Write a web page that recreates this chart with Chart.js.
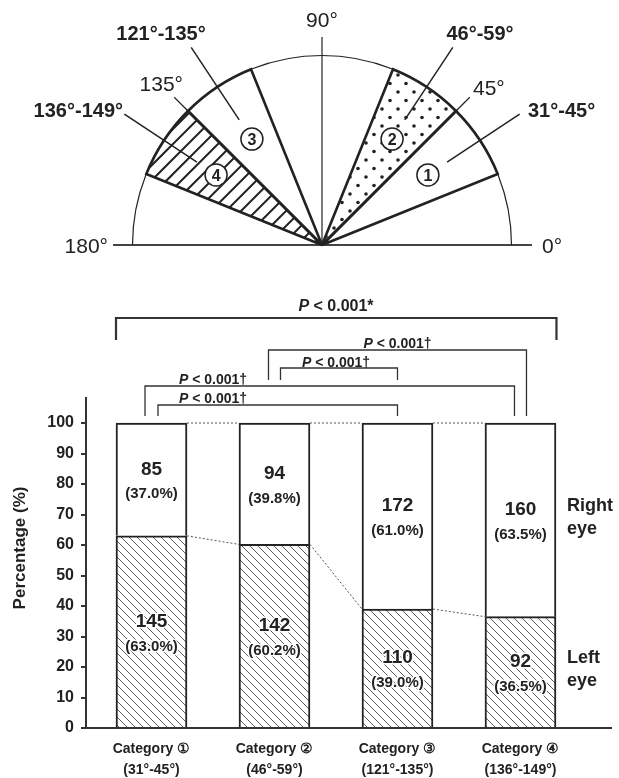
<!DOCTYPE html>
<html>
<head>
<meta charset="utf-8">
<script src="https://cdn.jsdelivr.net/npm/chart.js@4/dist/chart.umd.min.js"></script>
<style>
  html, body { margin: 0; padding: 0; background: #fff; }
  canvas { display: block; }
</style>
</head>
<body>
<canvas id="chart" width="619" height="778"></canvas>
<script>
// ---- data ----
const categories = ['Category ①', 'Category ②', 'Category ③', 'Category ④'];
const angleRanges = ['(31°-45°)', '(46°-59°)', '(121°-135°)', '(136°-149°)'];
const leftEyeCount = [145, 142, 110, 92];
const rightEyeCount = [85, 94, 172, 160];
const leftEyePct = [63.0, 60.2, 39.0, 36.5];
const rightEyePct = [37.0, 39.8, 61.0, 63.5];
const yTickValues = [0, 10, 20, 30, 40, 50, 60, 70, 80, 90, 100];
const seriesNames = ['Left eye', 'Right eye'];

// pairwise comparisons: [first category, second category, p-value text, mark]
const comparisons = [
  [1, 4, 'P < 0.001', '*'],
  [2, 4, 'P < 0.001', '†'],
  [2, 3, 'P < 0.001', '†'],
  [1, 4, 'P < 0.001', '†'],
  [1, 3, 'P < 0.001', '†']
];

// schematic of the angle categories (drawn span of each wedge, in degrees)
const sectorNumbers = ['1', '2', '3', '4'];
const sectorRangeLabels = ['31°-45°', '46°-59°', '121°-135°', '136°-149°'];
const sectorSpans = [[22, 45], [45, 68], [112, 135], [135, 158]];
const referenceAngles = ['0°', '45°', '90°', '135°', '180°'];

// ---- drawing helpers ----
const FONT = "'Liberation Sans', Arial, Helvetica, sans-serif";
Chart.defaults.font.family = FONT;
Chart.defaults.color = '#222';
const INK = '#222';

function font(size, weight, italic) {
  return (italic ? 'italic ' : '') + (weight || 'normal') + ' ' + size + 'px ' + FONT;
}
// y is the vertical centre of the capital letters
function text(ctx, str, x, y, size, weight, align, halo) {
  ctx.save();
  ctx.font = font(size, weight);
  ctx.textAlign = align || 'center';
  ctx.textBaseline = 'alphabetic';
  const by = y + size * 0.358;
  if (halo) {
    ctx.strokeStyle = '#fff';
    ctx.lineWidth = 3;
    ctx.lineJoin = 'round';
    ctx.strokeText(str, x, by);
  }
  ctx.fillStyle = INK;
  ctx.fillText(str, x, by);
  ctx.restore();
}
function pLabel(ctx, str, x, y, size) {
  // italic "P", remainder upright, centred on x
  ctx.save();
  ctx.textBaseline = 'alphabetic';
  ctx.textAlign = 'left';
  ctx.fillStyle = INK;
  const head = str.slice(0, 1), tail = str.slice(1);
  ctx.font = font(size, 'bold', true);
  const w1 = ctx.measureText(head).width;
  ctx.font = font(size, 'bold');
  const w2 = ctx.measureText(tail).width;
  const x0 = x - (w1 + w2) / 2;
  ctx.font = font(size, 'bold', true);
  ctx.fillText(head, x0, y);
  ctx.font = font(size, 'bold');
  ctx.fillText(tail, x0 + w1, y);
  ctx.restore();
}

function barHatch(ctx) {
  const s = 8;
  const c = document.createElement('canvas');
  c.width = s; c.height = s;
  const g = c.getContext('2d');
  g.fillStyle = '#fff';
  g.fillRect(0, 0, s, s);
  g.strokeStyle = '#4a4a4a';
  g.lineWidth = 0.9;
  g.beginPath();
  g.moveTo(-1, -1); g.lineTo(s + 1, s + 1);
  g.moveTo(-1, s - 1); g.lineTo(1, s + 1);
  g.moveTo(s - 1, -1); g.lineTo(s + 1, 1);
  g.stroke();
  return ctx.createPattern(c, 'repeat');
}

// ---- angle schematic ----
function drawSchematic(ctx) {
  const cx = 322, cy = 245, R = 189.5;
  const rad = d => d * Math.PI / 180;
  const pt = (deg, r) => [cx + r * Math.cos(rad(deg)), cy - r * Math.sin(rad(deg))];
  const wedge = (a1, a2) => {
    ctx.beginPath();
    ctx.moveTo(cx, cy);
    const p = pt(a1, R);
    ctx.lineTo(p[0], p[1]);
    ctx.arc(cx, cy, R, -rad(a1), -rad(a2), true);
    ctx.closePath();
  };
  ctx.save();
  ctx.lineCap = 'butt';

  // base line and thin half circle
  ctx.strokeStyle = '#444';
  ctx.lineWidth = 2;
  ctx.beginPath(); ctx.moveTo(113, cy); ctx.lineTo(532, cy); ctx.stroke();
  ctx.strokeStyle = INK;
  ctx.lineWidth = 1.2;
  ctx.beginPath(); ctx.arc(cx, cy, R, Math.PI, 0); ctx.stroke();

  // fills
  sectorSpans.forEach((span, i) => {
    ctx.save();
    wedge(span[0], span[1]);
    ctx.fillStyle = '#fff';
    ctx.fill();
    ctx.clip();
    if (i === 1) {
      ctx.fillStyle = INK;
      for (let row = 0, y = cy; y > cy - R - 10; row++, y -= 8.5) {
        for (let x = cx - 20 + (row % 2 ? 8 : 0); x < cx + R; x += 16) {
          ctx.beginPath(); ctx.arc(x, y, 1.8, 0, Math.PI * 2); ctx.fill();
        }
      }
    } else if (i === 3) {
      ctx.strokeStyle = INK;
      ctx.lineWidth = 2;
      for (let k = cx - 420; k < cx + 40; k += 15) {
        ctx.beginPath(); ctx.moveTo(k, cy + 5); ctx.lineTo(k + 260, cy - 255); ctx.stroke();
      }
    }
    ctx.restore();
  });

  // thin reference rays
  ctx.strokeStyle = INK;
  ctx.lineWidth = 1.2;
  let a = pt(90, 0), b = pt(90, 208);
  ctx.beginPath(); ctx.moveTo(a[0], a[1]); ctx.lineTo(b[0], b[1]); ctx.stroke();
  [45, 135].forEach(d => {
    const p = pt(d, R), q = pt(d, 209);
    ctx.beginPath(); ctx.moveTo(p[0], p[1]); ctx.lineTo(q[0], q[1]); ctx.stroke();
  });

  // wedge outlines
  ctx.lineWidth = 2.6;
  ctx.lineJoin = 'miter';
  ctx.miterLimit = 2;
  sectorSpans.forEach(span => { wedge(span[0], span[1]); ctx.stroke(); });

  // leader lines and numbered circles
  sectorSpans.forEach((span, i) => {
    const mid = (span[0] + span[1]) / 2;
    const p = pt(mid, 150), q = pt(mid, 237);
    ctx.lineWidth = 1.5;
    ctx.beginPath(); ctx.moveTo(p[0], p[1]); ctx.lineTo(q[0], q[1]); ctx.stroke();
    const c = pt(mid, 127);
    ctx.beginPath(); ctx.arc(c[0], c[1], 11, 0, Math.PI * 2);
    ctx.fillStyle = '#fff'; ctx.fill();
    ctx.lineWidth = 1.5; ctx.stroke();
    text(ctx, sectorNumbers[i], c[0], c[1], 16, 'bold');
  });

  // reference angle labels
  text(ctx, referenceAngles[0], 542, cy, 21, 'normal', 'left');
  text(ctx, referenceAngles[1], 473, 87, 21, 'normal', 'left');
  text(ctx, referenceAngles[2], cx, 19, 21, 'normal', 'center');
  text(ctx, referenceAngles[3], 183, 83, 21, 'normal', 'right');
  text(ctx, referenceAngles[4], 108, cy, 21, 'normal', 'right');

  // category range labels
  text(ctx, sectorRangeLabels[0], 528, 110, 20, 'bold', 'left');
  text(ctx, sectorRangeLabels[1], 480, 33, 20, 'bold', 'center');
  text(ctx, sectorRangeLabels[2], 161, 33, 20, 'bold', 'center');
  text(ctx, sectorRangeLabels[3], 123, 110, 20, 'bold', 'right');
  ctx.restore();
}

// bracket placement for each comparison (pixel offsets from category centres)
const bracketLayout = [
  { y: 318, legL: 340, legR: 340, dxL: -35.5, dxR: 36, labelAt: 2.5, size: 16, lw: 2.2, gap: 7 },
  { y: 350, legL: 380, legR: 416, dxL: -6, dxR: 6, labelAt: 3, size: 14, lw: 1.3, gap: 2 },
  { y: 368, legL: 380, legR: 380, dxL: 6, dxR: 0, labelAt: 2.5, size: 14, lw: 1.3, gap: 1 },
  { y: 386, legL: 416, legR: 416, dxL: -6.5, dxR: -6, labelAt: 1.5, size: 14, lw: 1.3, gap: 2 },
  { y: 405, legL: 416, legR: 416, dxL: 6.5, dxR: 0, labelAt: 1.5, size: 14, lw: 1.3, gap: 2 }
];

const overlay = {
  id: 'overlay',
  afterDraw(chart) {
    const ctx = chart.ctx;
    const xs = chart.scales.x, ys = chart.scales.y;
    const meta = chart.getDatasetMeta(0);
    const half = meta.data[0].width / 2;

    drawSchematic(ctx);

    // dotted connectors between neighbouring bars
    ctx.save();
    ctx.strokeStyle = '#555';
    ctx.lineWidth = 1;
    ctx.setLineDash([2, 2]);
    for (let i = 0; i < categories.length - 1; i++) {
      const x1 = xs.getPixelForValue(i + 1) + half, x2 = xs.getPixelForValue(i + 2) - half;
      const top = ys.getPixelForValue(leftEyePct[i] + rightEyePct[i]);
      const top2 = ys.getPixelForValue(leftEyePct[i + 1] + rightEyePct[i + 1]);
      ctx.beginPath(); ctx.moveTo(x1, top); ctx.lineTo(x2, top2); ctx.stroke();
      ctx.beginPath();
      ctx.moveTo(x1, ys.getPixelForValue(leftEyePct[i]));
      ctx.lineTo(x2, ys.getPixelForValue(leftEyePct[i + 1]));
      ctx.stroke();
    }
    ctx.restore();

    // counts and shares inside each segment
    for (let i = 0; i < categories.length; i++) {
      const x = xs.getPixelForValue(i + 1);
      const lc = ys.getPixelForValue(leftEyePct[i] / 2);
      const rc = ys.getPixelForValue(leftEyePct[i] + rightEyePct[i] / 2);
      text(ctx, String(rightEyeCount[i]), x, rc - 11.5, 19, 'bold');
      text(ctx, '(' + rightEyePct[i].toFixed(1) + '%)', x, rc + 13.5, 15, 'bold');
      text(ctx, String(leftEyeCount[i]), x, lc - 12, 19, 'bold', 'center', true);
      text(ctx, '(' + leftEyePct[i].toFixed(1) + '%)', x, lc + 13.5, 15, 'bold', 'center', true);
    }

    // series names beside the last bar
    const last = categories.length - 1;
    const lx = xs.getPixelForValue(last + 1) + half + 11;
    const rMid = ys.getPixelForValue(leftEyePct[last] + rightEyePct[last] / 2) - 4;
    const lMid = ys.getPixelForValue(leftEyePct[last] / 2) - 4;
    const [lw1, lw2] = seriesNames[0].split(' ');
    const [rw1, rw2] = seriesNames[1].split(' ');
    text(ctx, rw1, lx, rMid - 11.5, 18, 'bold', 'left');
    text(ctx, rw2, lx, rMid + 11.5, 18, 'bold', 'left');
    text(ctx, lw1, lx, lMid - 11.5, 18, 'bold', 'left');
    text(ctx, lw2, lx, lMid + 11.5, 18, 'bold', 'left');

    // y axis title
    ctx.save();
    ctx.translate(20, 548);
    ctx.rotate(-Math.PI / 2);
    ctx.font = font(17, 'bold');
    ctx.fillStyle = INK;
    ctx.textAlign = 'center';
    ctx.textBaseline = 'middle';
    ctx.fillText('Percentage (%)', 0, 0);
    ctx.restore();

    // significance brackets
    ctx.save();
    ctx.strokeStyle = '#333';
    comparisons.forEach((cmp, k) => {
      const L = bracketLayout[k];
      const xa = xs.getPixelForValue(cmp[0]) + L.dxL;
      const xb = xs.getPixelForValue(cmp[1]) + L.dxR;
      ctx.lineWidth = L.lw;
      ctx.lineJoin = 'miter';
      ctx.beginPath();
      ctx.moveTo(xa, L.legL); ctx.lineTo(xa, L.y); ctx.lineTo(xb, L.y); ctx.lineTo(xb, L.legR);
      ctx.stroke();
      pLabel(ctx, cmp[2] + cmp[3], xs.getPixelForValue(L.labelAt), L.y - L.gap, L.size);
    });
    ctx.restore();
  }
};

const canvas = document.getElementById('chart');
const ctx2d = canvas.getContext('2d');
const hatch = barHatch(ctx2d);

new Chart(canvas, {
  type: 'bar',
  data: {
    datasets: [
      {
        label: seriesNames[0],
        data: leftEyePct.map((v, i) => ({ x: i + 1, y: v })),
        backgroundColor: hatch,
        borderColor: INK,
        borderWidth: 2,
        barThickness: 71
      },
      {
        label: seriesNames[1],
        data: rightEyePct.map((v, i) => ({ x: i + 1, y: v })),
        backgroundColor: '#fff',
        borderColor: INK,
        borderWidth: 2,
        barThickness: 71
      }
    ]
  },
  options: {
    responsive: false,
    animation: false,
    devicePixelRatio: 1,
    layout: { padding: { top: 398, right: 8, bottom: 0, left: 0 } },
    plugins: { legend: { display: false }, tooltip: { enabled: false } },
    scales: {
      x: {
        type: 'linear',
        stacked: true,
        min: 0.4675,
        max: 4.736,
        offset: false,
        grid: { display: false },
        border: { display: true, color: '#333', width: 2 },
        afterBuildTicks: s => { s.ticks = categories.map((_, i) => ({ value: i + 1 })); },
        afterFit: s => { s.height = 50; s.paddingLeft = 0; s.paddingRight = 0; },
        ticks: {
          autoSkip: false,
          maxRotation: 0,
          padding: 2.5,
          color: INK,
          font: { size: 14, weight: 'bold', lineHeight: 1.5 },
          callback: v => [categories[v - 1], angleRanges[v - 1]]
        }
      },
      y: {
        stacked: true,
        min: 0,
        max: 108.2,
        grid: { display: true, drawOnChartArea: false, drawTicks: true, tickLength: 5, tickColor: '#333', lineWidth: 2 },
        border: { display: true, color: '#333', width: 2 },
        afterBuildTicks: s => { s.ticks = yTickValues.map(v => ({ value: v })); },
        afterFit: s => { s.width = 86; s.paddingTop = 0; s.paddingBottom = 0; },
        ticks: { padding: 7, color: INK, font: { size: 16, weight: 'bold' } }
      }
    }
  },
  plugins: [overlay]
});
</script>
</body>
</html>
